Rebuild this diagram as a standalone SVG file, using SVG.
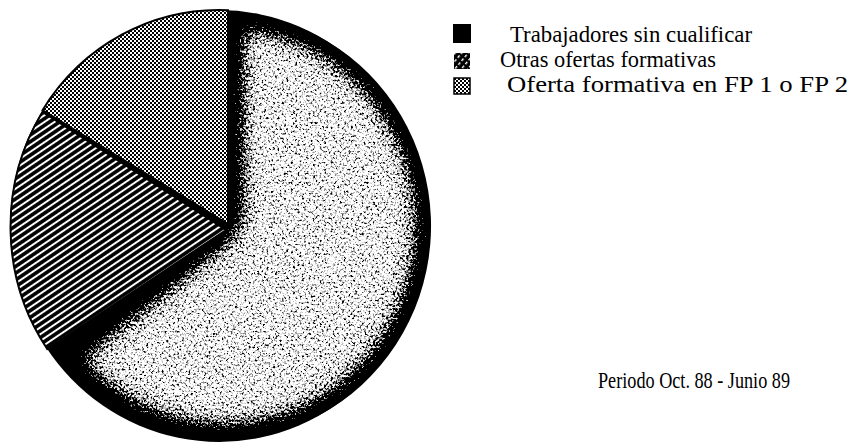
<svg xmlns="http://www.w3.org/2000/svg" width="855" height="444" viewBox="0 0 855 444">
<style>
text{font-family:"Liberation Serif","Times New Roman",serif;fill:#000;font-size:24px}
.edge{stroke:#000;stroke-width:2;stroke-linejoin:miter}
</style>
<defs>
<pattern id="checker" width="4" height="4" patternUnits="userSpaceOnUse">
<rect width="4" height="4" fill="#fff"/>
<rect width="2" height="2" fill="#000"/>
<rect x="2" y="2" width="2" height="2" fill="#000"/>
</pattern>
<pattern id="stripes" width="8" height="5.6" patternUnits="userSpaceOnUse" patternTransform="rotate(-34)">
<rect width="8" height="5.6" fill="#000"/>
<rect y="1.8" width="8" height="2" fill="#fff"/>
</pattern>
<pattern id="hatch" width="5" height="5" patternUnits="userSpaceOnUse" patternTransform="rotate(-50)">
<rect width="5" height="5" fill="#000"/>
<rect y="2" width="3" height="1.4" fill="#fff"/>
</pattern>
<filter id="speck" filterUnits="userSpaceOnUse" x="0" y="0" width="440" height="444" color-interpolation-filters="sRGB">
<feTurbulence type="fractalNoise" baseFrequency="0.45" numOctaves="3" seed="7" result="noise"/>
<feColorMatrix in="noise" type="matrix" values="0 0 0 0 0  0 0 0 0 0  0 0 0 0 0  1 0 0 0 0" result="na"/>
<feGaussianBlur in="SourceAlpha" stdDeviation="15" result="ba"/>
<feComposite in="ba" in2="na" operator="arithmetic" k1="0" k2="1.47" k3="-1" k4="0" result="d"/>
<feColorMatrix in="d" type="matrix" values="0 0 0 1 0  0 0 0 1 0  0 0 0 1 0  0 0 0 0 1" result="g"/>
<feComponentTransfer in="g" result="t">
<feFuncR type="discrete" tableValues="0 0 0 0 0 0 0 0 0 0 0 0 0 0 0 0.3 0.55 0.75 0.9 1"/>
<feFuncG type="discrete" tableValues="0 0 0 0 0 0 0 0 0 0 0 0 0 0 0 0.3 0.55 0.75 0.9 1"/>
<feFuncB type="discrete" tableValues="0 0 0 0 0 0 0 0 0 0 0 0 0 0 0 0.3 0.55 0.75 0.9 1"/>
</feComponentTransfer>
<feComposite in="t" in2="SourceAlpha" operator="in"/>
</filter>
</defs>

<g id="pie">
<ellipse id="slice-trabajadores" cx="219" cy="226" rx="209" ry="216" fill="#000"/>
<g id="slice-fp">
<path d="M228,224 L60.7,356.8 A207,213 0 1,0 228,13 Z" fill="#000" filter="url(#speck)"/>
</g>
<g id="slice-checker">
<path class="edge" d="M228,224 L228,10.2 A209,216 0 0,0 42.5,110.2 Z" fill="url(#checker)"/>
</g>
<g id="slice-stripes">
<path class="edge" d="M226,230 L42.5,112 A209,216 0 0,0 47.2,349 Z" fill="url(#stripes)"/>
</g>
</g>

<g id="legend">
<g id="legend-1">
<rect x="453" y="24" width="18" height="19" fill="#000"/>
<text x="510" y="42" textLength="242" lengthAdjust="spacingAndGlyphs">Trabajadores sin cualificar</text>
</g>
<g id="legend-2">
<rect x="454" y="53" width="16" height="16" fill="url(#hatch)"/>
<text x="500" y="67" textLength="216" lengthAdjust="spacingAndGlyphs">Otras ofertas formativas</text>
</g>
<g id="legend-3">
<rect x="454" y="78" width="16" height="16" fill="url(#checker)" stroke="#000" stroke-width="1.5"/>
<text x="507" y="92" textLength="341" lengthAdjust="spacingAndGlyphs">Oferta formativa en FP 1 o FP 2</text>
</g>
</g>

<g id="caption">
<text x="598" y="388" textLength="192" lengthAdjust="spacingAndGlyphs">Periodo Oct. 88 - Junio 89</text>
</g>
</svg>
